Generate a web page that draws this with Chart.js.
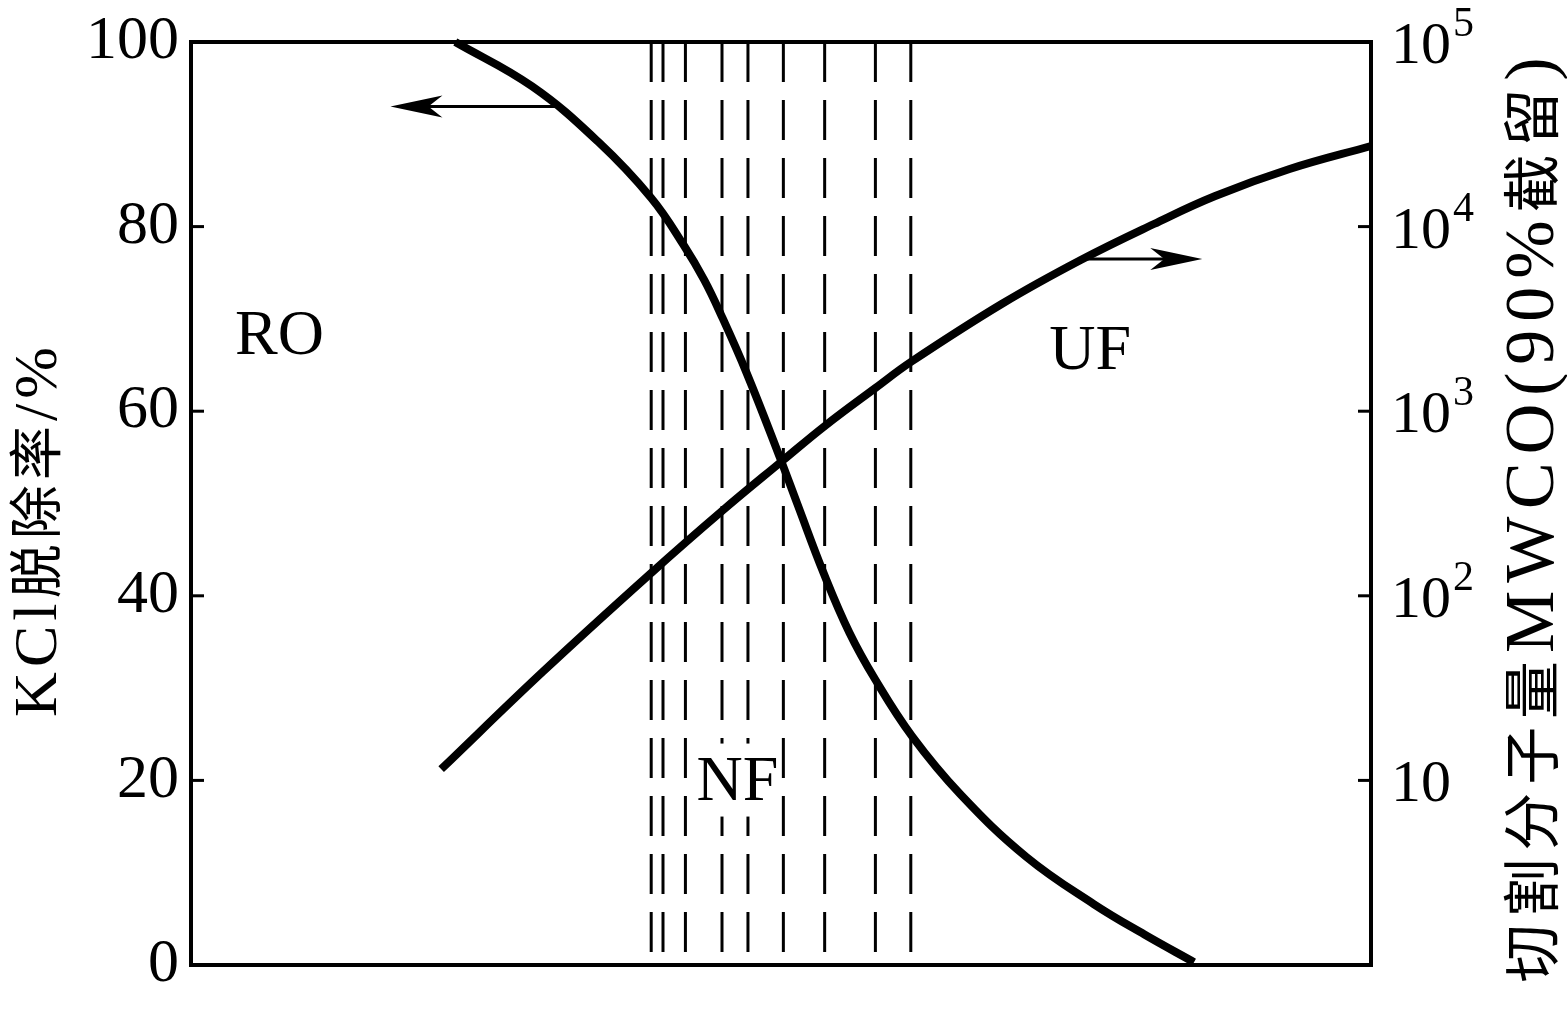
<!DOCTYPE html>
<html>
<head>
<meta charset="utf-8">
<script src="https://cdn.jsdelivr.net/npm/chart.js@4.4.0/dist/chart.umd.min.js"></script>
<style>
    html, body { margin: 0; padding: 0; background: #fff; }
    #wrap { width: 1567px; height: 1017px; position: relative; }
</style>
</head>
<body>
<div id="wrap"><canvas id="grafica"></canvas></div>
<script>
"use strict";

// KCl rejection (left axis, %) against the membrane position (x, 0-100, no scale shown)
const kclX = [22.4, 28.9, 34.5, 39.0, 41.8, 43.5, 44.9, 47.1, 49.9, 51.4, 53.6, 55.8, 58.0, 61.1, 65.2, 70.8, 76.5, 80.8, 85.0];
const kclY = [100, 95.2, 89.2, 83.1, 77.9, 74.2, 70.5, 64.1, 55.0, 49.9, 42.5, 36.0, 30.9, 24.8, 18.5, 11.7, 6.6, 3.3, 0.3];

// molecular weight cut-off (right axis, log)
const mwcoX = [21.2, 29.8, 39.0, 45.0, 50.2, 53.7, 58.0, 61.0, 68.7, 75.4, 81.6, 86.8, 93.1, 100];
const mwcoY = [11.5, 38.7, 133, 288, 544, 831, 1336, 1847, 3808, 6593, 10330, 14650, 20510, 27330];

// dashed NF band boundaries
const nfLines = [39.0, 40.0, 41.9, 45.0, 47.2, 50.2, 53.7, 58.0, 61.0];

// tick values
const leftTicks = [0, 20, 40, 60, 80, 100];
const rightTicks = [10, 100, 1000, 10000, 100000];
const rightTickExp = ["", "2", "3", "4", "5"];

// region labels (data coords on left axis)
const regionNames = ["RO", "NF", "UF"];
const regionX = [7.5, 46.3, 76.2];
const regionY = [68.5, 20.2, 66.8];

// arrows: [fromX, toX, y] on left axis
const arrowLeft = [31.1, 16.9, 93.0];
const arrowRight = [75.4, 85.7, 76.5];

const titleLeft = "KCl脱除率/%";
const titleRight = "切割分子量MWCO(90%截留)";

const latin = "'Liberation Serif', 'Times New Roman', serif";
const cjk = "'Noto Sans CJK SC', sans-serif";

const datasets = [
    {
        label: "KCl",
        data: kclX.map((x, i) => ({ x: x, y: kclY[i] })),
        yAxisID: "y",
        borderColor: "#000",
        borderWidth: 8,
        pointRadius: 0,
        tension: 0.4,
        clip: false,
    },
    {
        label: "MWCO",
        data: mwcoX.map((x, i) => ({ x: x, y: mwcoY[i] })),
        yAxisID: "y2",
        borderColor: "#000",
        borderWidth: 8,
        pointRadius: 0,
        tension: 0.4,
        clip: false,
    },
];

nfLines.forEach((x) => {
    datasets.push({
        label: "nf",
        data: [{ x: x, y: 100 }, { x: x, y: 0 }],
        yAxisID: "y",
        borderColor: "#000",
        borderWidth: 3,
        borderDash: [40, 18],
        pointRadius: 0,
    });
});

function drawArrow(ctx, x1, x2, y) {
    const dir = Math.sign(x2 - x1);
    const headLen = 52, half = 11, notch = 14;
    ctx.beginPath();
    ctx.lineWidth = 3;
    ctx.moveTo(x1, y);
    ctx.lineTo(x2 - dir * notch, y);
    ctx.stroke();
    ctx.beginPath();
    ctx.moveTo(x2, y);
    ctx.lineTo(x2 - dir * headLen, y - half);
    ctx.lineTo(x2 - dir * (headLen - notch), y);
    ctx.lineTo(x2 - dir * headLen, y + half);
    ctx.closePath();
    ctx.fill();
}

// vertical title, read bottom to top, latin and CJK in their own sizes
function drawTitle(ctx, text, cx, cy, target, latinPx, cjkPx) {
    const chars = [...text];
    const isCjk = (c) => /[\u3000-\u9fff\uff00-\uffef]/.test(c);
    const fontOf = (c) => (isCjk(c) ? cjkPx + "px " + cjk : latinPx + "px " + latin);
    ctx.save();
    ctx.translate(cx, cy);
    ctx.rotate(-Math.PI / 2);
    const widths = chars.map((c) => { ctx.font = fontOf(c); return ctx.measureText(c).width; });
    const total = widths.reduce((a, b) => a + b, 0);
    const gap = Math.max(0, (target - total) / (chars.length - 1));
    ctx.textAlign = "left";
    ctx.textBaseline = "alphabetic";
    let x = -target / 2;
    chars.forEach((c, i) => {
        ctx.font = fontOf(c);
        ctx.fillText(c, x, latinPx * 0.33);
        x += widths[i] + gap;
    });
    ctx.restore();
}

const decor = {
    id: "decor",
    afterDatasetsDraw(chart) {
        const { ctx, chartArea: a, scales } = chart;
        const xs = scales.x, ys = scales.y, y2 = scales.y2;
        ctx.save();
        ctx.strokeStyle = "#000";
        ctx.fillStyle = "#000";

        // frame
        ctx.lineWidth = 4;
        ctx.strokeRect(a.left, a.top, a.right - a.left, a.bottom - a.top);

        // inward ticks
        ctx.lineWidth = 3;
        leftTicks.slice(1, -1).forEach((v) => {
            const py = ys.getPixelForValue(v);
            ctx.beginPath();
            ctx.moveTo(a.left, py);
            ctx.lineTo(a.left + 13, py);
            ctx.stroke();
        });
        rightTicks.slice(0, -1).forEach((v) => {
            const py = y2.getPixelForValue(v);
            ctx.beginPath();
            ctx.moveTo(a.right, py);
            ctx.lineTo(a.right - 13, py);
            ctx.stroke();
        });

        // right tick labels with superscripts
        rightTicks.forEach((v, i) => {
            const py = y2.getPixelForValue(v);
            ctx.font = "60px " + latin;
            ctx.textAlign = "left";
            ctx.textBaseline = "alphabetic";
            ctx.fillText("10", a.right + 20, py + 21);
            const w = ctx.measureText("10").width;
            if (rightTickExp[i]) {
                ctx.font = "42px " + latin;
                ctx.fillText(rightTickExp[i], a.right + 22 + w, py - 6);
            }
        });

        // arrows
        drawArrow(ctx, xs.getPixelForValue(arrowLeft[0]), xs.getPixelForValue(arrowLeft[1]), ys.getPixelForValue(arrowLeft[2]));
        drawArrow(ctx, xs.getPixelForValue(arrowRight[0]), xs.getPixelForValue(arrowRight[1]), ys.getPixelForValue(arrowRight[2]));

        // region labels
        ctx.font = "64px " + latin;
        ctx.textAlign = "center";
        ctx.textBaseline = "alphabetic";
        regionNames.forEach((t, i) => {
            const px = xs.getPixelForValue(regionX[i]);
            const py = ys.getPixelForValue(regionY[i]);
            if (t === "NF") {
                ctx.fillStyle = "#fff";
                ctx.fillRect(px - 43, py - 35, 86, 73);
                ctx.fillStyle = "#000";
            }
            ctx.fillText(t, px, py + 21);
        });

        // axis titles
        drawTitle(ctx, titleLeft, 36, 532, 370, 62, 54);
        drawTitle(ctx, titleRight, 1530, 520, 925, 70, 58);

        ctx.restore();
    },
};

new Chart(document.querySelector("#grafica"), {
    type: "line",
    data: { datasets: datasets },
    options: {
        responsive: true,
        maintainAspectRatio: false,
        animation: false,
        layout: { padding: { top: 42, bottom: 52, left: 0, right: 0 } },
        plugins: {
            legend: { display: false },
            tooltip: { enabled: false },
        },
        scales: {
            x: {
                type: "linear",
                min: 0,
                max: 100,
                display: false,
            },
            y: {
                type: "linear",
                position: "left",
                min: 0,
                max: 100,
                afterFit: (s) => { s.width = 191; s.paddingTop = 0; s.paddingBottom = 0; },
                afterBuildTicks: (s) => { s.ticks = leftTicks.map((v) => ({ value: v })); },
                ticks: {
                    color: "#000",
                    padding: 12,
                    font: { family: latin, size: 62 },
                },
                grid: { display: false, drawTicks: false },
                border: { display: false },
            },
            y2: {
                type: "logarithmic",
                position: "right",
                min: 1,
                max: 100000,
                afterFit: (s) => { s.width = 196; s.paddingTop = 0; s.paddingBottom = 0; },
                ticks: { display: false },
                grid: { display: false, drawTicks: false },
                border: { display: false },
            },
        },
    },
    plugins: [decor],
});
</script>
</body>
</html>
